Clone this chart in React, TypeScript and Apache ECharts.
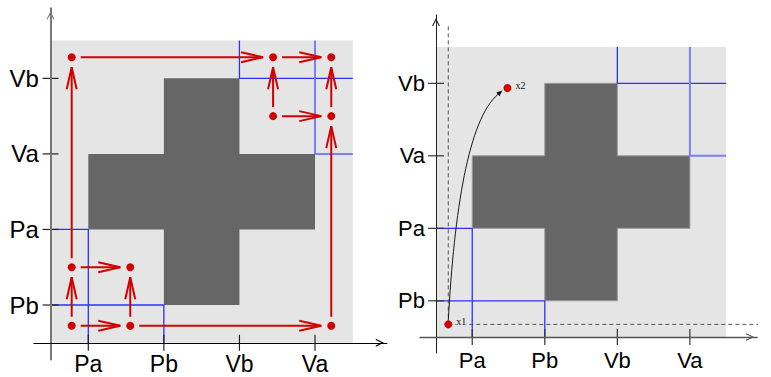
import React, { useEffect, useRef } from "react";
import * as echarts from "echarts";

// ---- data ----
const tickValues = [1, 3, 5, 7];
const xTickNames = ["Pa", "Pb", "Vb", "Va"];
const yTickNames = ["Pb", "Pa", "Va", "Vb"];
const squareCorners = [[0, 0], [8, 0], [8, 8], [0, 8]];
const crossOutline = [
  [3, 1], [5, 1], [5, 3], [7, 3], [7, 5], [5, 5],
  [5, 7], [3, 7], [3, 5], [1, 5], [1, 3], [3, 3],
];
const bluePaths = [
  [[0, 3], [1, 3], [1, 0]],
  [[0, 1], [3, 1], [3, 0]],
  [[5, 8], [5, 7], [8, 7]],
  [[7, 8], [7, 5], [8, 5]],
];
const blueIsLight = [false, false, false, true];
const leftDots = [
  [0.56, 7.56], [5.89, 7.56], [7.43, 7.56], [5.89, 6.0], [7.43, 6.0],
  [0.56, 2.0], [2.11, 2.0], [0.56, 0.45], [2.11, 0.45], [7.43, 0.45],
];
const leftArrows = [
  [7, 5], [5, 0], [0, 1], [1, 2], [3, 1], [3, 4],
  [4, 2], [9, 4], [7, 8], [8, 6], [5, 6], [8, 9],
];
const rightPoints = [[0.34, 0.35], [1.97, 6.87]];
const rightPointNames = ["x1", "x2"];
const guideTop = 8.6;
const guideRight = 9.23;

const RED = "#d20000";
const ARROW = "path://M5,0 L10,10 L8.5,10 L5,3 L1.5,10 L0,10 Z";

function polygonSeries(gi: number, pts: number[][], fill: string, stroke: string | null, z: number) {
  return {
    type: "custom",
    coordinateSystem: "cartesian2d",
    xAxisIndex: gi,
    yAxisIndex: gi,
    silent: true,
    z,
    data: [pts.flat()],
    renderItem: (_p: any, api: any) => {
      const points: number[][] = [];
      for (let i = 0; i < pts.length; i++) points.push(api.coord([api.value(2 * i), api.value(2 * i + 1)]));
      return {
        type: "polygon",
        shape: { points },
        style: { fill, stroke: stroke || "none", lineWidth: stroke ? 1 : 0 },
      };
    },
  };
}

function tickSeries(gi: number, color: string) {
  const data = [
    ...tickValues.map((v) => [v, 0, 0]),
    ...tickValues.map((v) => [0, v, 1]),
  ];
  return {
    type: "custom",
    coordinateSystem: "cartesian2d",
    xAxisIndex: gi,
    yAxisIndex: gi,
    silent: true,
    z: 4,
    data,
    renderItem: (_p: any, api: any) => {
      const c = api.coord([api.value(0), api.value(1)]);
      const vertical = api.value(2) === 0;
      return {
        type: "line",
        shape: vertical
          ? { x1: c[0], y1: c[1] - 8, x2: c[0], y2: c[1] + 8 }
          : { x1: c[0] - 8, y1: c[1], x2: c[0] + 8, y2: c[1] },
        style: { stroke: color, lineWidth: 1.2 },
      };
    },
  };
}

function blueSeries(gi: number) {
  return bluePaths.map((path, i) => ({
    type: "line",
    xAxisIndex: gi,
    yAxisIndex: gi,
    data: path,
    symbol: "none",
    silent: true,
    z: 3,
    lineStyle: blueIsLight[i]
      ? { color: "#7c7cff", width: 2 }
      : { color: "#2f2fff", width: 1.3 },
  }));
}

function makeAxis(gi: number, names: string[], min: number, max: number, line: any, fontSize: number, margin: number) {
  return {
    type: "value",
    gridIndex: gi,
    min,
    max,
    z: 4,
    axisLine: {
      show: true,
      onZero: true,
      symbol: ["none", ARROW],
      symbolSize: [8, 14],
      symbolOffset: [0, -7],
      lineStyle: line,
    },
    axisTick: { show: false },
    splitLine: { show: false },
    axisLabel: {
      show: true,
      customValues: tickValues,
      formatter: (v: number) => {
        const k = tickValues.indexOf(Math.round(v));
        return k >= 0 ? names[k] : "";
      },
      fontSize,
      lineHeight: fontSize - 4,
      fontFamily: "Liberation Sans, Arial, sans-serif",
      color: "#000",
      margin,
    },
  };
}

export default function App() {
  const ref = useRef<HTMLDivElement>(null);
  useEffect(() => {
    if (!ref.current) return;
    const chart = echarts.init(ref.current, undefined, { renderer: "svg" });

    const arrowData = leftArrows.map(([f, t]) => [leftDots[f][0], leftDots[f][1], leftDots[t][0], leftDots[t][1]]);

    const option: any = {
      animation: false,
      grid: [
        { left: 33.9, top: 8.3, width: 352.9, height: 351.1, containLabel: false, outerBoundsMode: "none" },
        { left: 420.0, top: 15.0, width: 337.0, height: 338.0, containLabel: false, outerBoundsMode: "none" },
      ],
      xAxis: [
        makeAxis(0, xTickNames, -0.44, 8.9, { color: "#000", width: 1.2 }, 23, -5.4),
        makeAxis(1, xTickNames, -0.44, 8.85, { color: "#555", width: 1.4 }, 22, -2),
      ],
      yAxis: [
        makeAxis(0, yTickNames, -0.44, 8.855, { color: "#777", width: 2 }, 24, -5),
        makeAxis(1, yTickNames, -0.44, 8.885, { color: "#222", width: 1 }, 22, -5),
      ],
      series: [
        // left panel
        polygonSeries(0, squareCorners, "#e5e5e5", null, 1),
        polygonSeries(0, crossOutline, "#666666", null, 2),
        ...blueSeries(0),
        tickSeries(0, "#222"),
        {
          type: "custom",
          coordinateSystem: "cartesian2d",
          xAxisIndex: 0,
          yAxisIndex: 0,
          silent: true,
          z: 5,
          data: arrowData,
          renderItem: (_p: any, api: any) => {
            const p0 = api.coord([api.value(0), api.value(1)]);
            const p1 = api.coord([api.value(2), api.value(3)]);
            const dx = p1[0] - p0[0];
            const dy = p1[1] - p0[1];
            const len = Math.hypot(dx, dy) || 1;
            const ux = dx / len;
            const uy = dy / len;
            const sx = p0[0] + ux * 9;
            const sy = p0[1] + uy * 9;
            const tx = p1[0] - ux * 10;
            const ty = p1[1] - uy * 10;
            const bx = tx - ux * 22;
            const by = ty - uy * 22;
            const nx = -uy;
            const ny = ux;
            return {
              type: "group",
              children: [
                { type: "line", shape: { x1: sx, y1: sy, x2: tx, y2: ty }, style: { stroke: RED, lineWidth: 2 } },
                {
                  type: "polyline",
                  shape: { points: [[bx + nx * 5, by + ny * 5], [tx, ty], [bx - nx * 5, by - ny * 5]] },
                  style: { stroke: RED, lineWidth: 2, fill: "none" },
                },
              ],
            };
          },
        },
        {
          type: "scatter",
          xAxisIndex: 0,
          yAxisIndex: 0,
          data: leftDots,
          symbolSize: 8,
          silent: true,
          z: 6,
          itemStyle: { color: RED, opacity: 1 },
        },
        // right panel
        polygonSeries(1, squareCorners, "#e5e5e5", null, 1),
        polygonSeries(1, crossOutline, "#666666", "#9a9a9a", 2),
        ...blueSeries(1),
        tickSeries(1, "#333"),
        {
          type: "line",
          xAxisIndex: 1,
          yAxisIndex: 1,
          data: [rightPoints[0], [rightPoints[0][0], guideTop]],
          symbol: "none",
          silent: true,
          clip: false,
          z: 3,
          lineStyle: { color: "#555", width: 1, type: [4, 3] },
        },
        {
          type: "line",
          xAxisIndex: 1,
          yAxisIndex: 1,
          data: [rightPoints[0], [guideRight, rightPoints[0][1]]],
          symbol: "none",
          silent: true,
          clip: false,
          z: 3,
          lineStyle: { color: "#555", width: 1, type: [4, 3] },
        },
        {
          type: "custom",
          coordinateSystem: "cartesian2d",
          xAxisIndex: 1,
          yAxisIndex: 1,
          silent: true,
          z: 5,
          data: [[rightPoints[0][0], rightPoints[0][1], rightPoints[1][0], rightPoints[1][1]]],
          renderItem: (_p: any, api: any) => {
            const s = api.coord([api.value(0), api.value(1)]);
            const e = api.coord([api.value(2), api.value(3)]);
            const S = [s[0], s[1] - 4];
            const E = [e[0] - 5, e[1] + 2.5];
            const c1 = [S[0] + 6, S[1] - 110];
            const c2 = [E[0] - 34, E[1] + 29];
            const tx = E[0] - c2[0];
            const ty = E[1] - c2[1];
            const l = Math.hypot(tx, ty) || 1;
            const ux = tx / l;
            const uy = ty / l;
            const bx = E[0] - ux * 6;
            const by = E[1] - uy * 6;
            return {
              type: "group",
              children: [
                {
                  type: "bezierCurve",
                  shape: { x1: S[0], y1: S[1], cpx1: c1[0], cpy1: c1[1], cpx2: c2[0], cpy2: c2[1], x2: bx, y2: by },
                  style: { stroke: "#1a1a1a", lineWidth: 1, fill: "none" },
                },
                {
                  type: "polygon",
                  shape: { points: [[E[0], E[1]], [bx - uy * 2.5, by + ux * 2.5], [bx + uy * 2.5, by - ux * 2.5]] },
                  style: { fill: "#111", stroke: "none" },
                },
              ],
            };
          },
        },
        {
          type: "scatter",
          xAxisIndex: 1,
          yAxisIndex: 1,
          data: rightPoints,
          symbolSize: 8,
          silent: true,
          z: 6,
          itemStyle: { color: RED, opacity: 1 },
          label: {
            show: true,
            position: "right",
            distance: 4,
            offset: [0, -3],
            formatter: (p: any) => rightPointNames[p.dataIndex],
            fontFamily: "Liberation Serif, serif",
            fontSize: 10,
            color: "#111",
            backgroundColor: "#e5e5e5",
          },
        },
      ],
    };
    chart.setOption(option);
    return () => chart.dispose();
  }, []);
  return (
    <div
      ref={ref}
      style={{ position: "absolute", left: 0, top: 0, width: 771, height: 377, background: "#fff" }}
    />
  );
}
